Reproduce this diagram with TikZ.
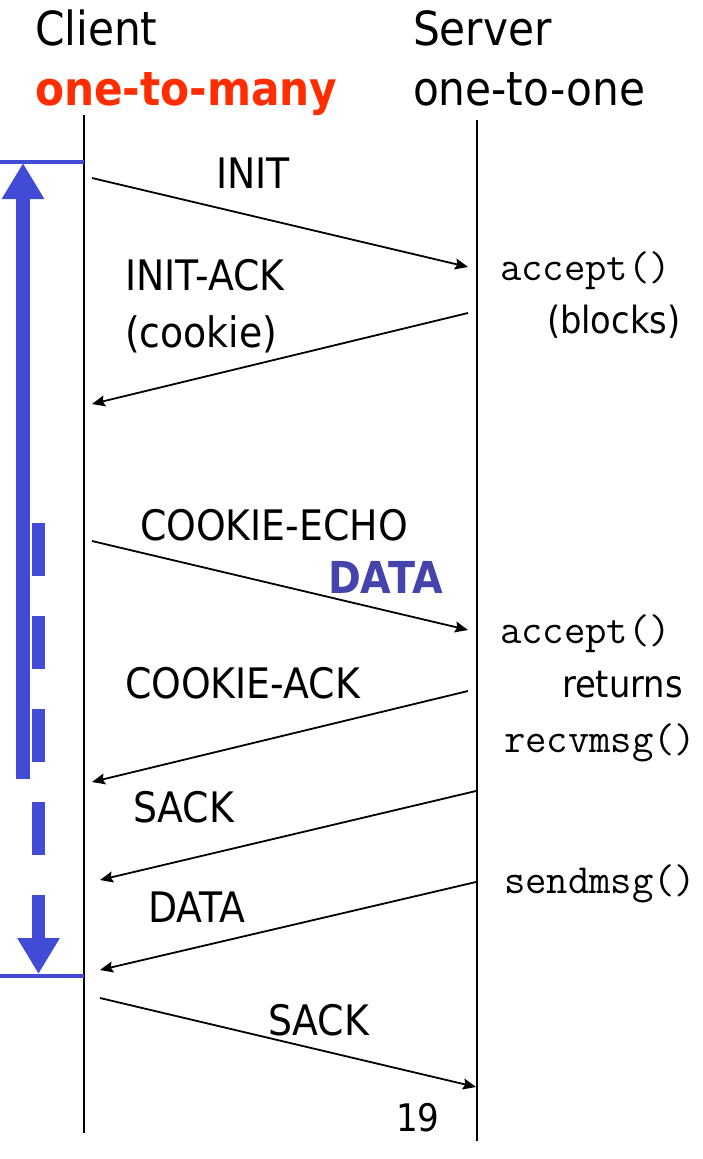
\documentclass[tikz,border=0pt]{standalone}
\usepackage{fontspec}
\setmainfont{DejaVu Sans}[FakeStretch=0.9]
\usetikzlibrary{arrows.meta}
\definecolor{flowblue}{RGB}{66,75,213}
\definecolor{datablue}{RGB}{68,68,172}
\definecolor{headred}{RGB}{255,45,0}
\tikzset{
  lbl/.style={anchor=base west, inner sep=0pt, outer sep=0pt, font=\fontsize{42}{44}\selectfont},
  note/.style={anchor=base west, inner sep=0pt, outer sep=0pt, font=\fontsize{37.5}{40}\selectfont},
  head/.style={anchor=base west, inner sep=0pt, outer sep=0pt, font=\fontsize{47}{49}\selectfont},
  code/.style={anchor=base west, inner sep=0pt, outer sep=0pt, font=\fontsize{41.5}{44}\selectfont\ttfamily},
  lifeline/.style={line width=2pt},
  msg/.style={line width=1.8pt, -{Stealth[length=13pt,width=11pt,inset=2pt]}},
  bigarrow/.style={flowblue, line width=14pt, -{Triangle[length=36pt,width=40pt]}},
  bound/.style={flowblue, line width=4pt}
}
\begin{document}
\begin{tikzpicture}[x=1pt,y=-1pt]
\useasboundingbox (0,0) rectangle (702,1159);

% headings
\node[head] (client) at (35,45) {Client};
\node[head, font=\fontsize{47}{49}\selectfont\bfseries, text=headred] (cmode) at (35,105) {one-to-many};
\node[head] (server) at (413,45) {Server};
\node[head] (smode) at (413,105) {one-to-one};

% lifelines
\coordinate (ctop) at (84,115);
\coordinate (cbot) at (84,1133);
\coordinate (stop) at (477,120);
\coordinate (sbot) at (477,1141);
\draw[lifeline] (ctop) -- (cbot);
\draw[lifeline] (stop) -- (sbot);

% association lifetime markers
\coordinate (b1l) at (0,162);
\coordinate (b1r) at (84,162);
\coordinate (b2l) at (0,976);
\coordinate (b2r) at (84,976);
\draw[bound] (b1l) -- (b1r);
\draw[bound] (b2l) -- (b2r);

\coordinate (upfrom) at (23,779);
\coordinate (upto) at (23,163);
\draw[bigarrow] (upfrom) -- (upto);
\coordinate (dnfrom) at (38.5,523);
\coordinate (dnto) at (38.5,974);
\draw[bigarrow, line width=13pt, dash pattern=on 53pt off 40pt] (dnfrom) -- (dnto);

% message endpoints
\coordinate (m1a) at (92,178);   \coordinate (m1b) at (468,267);
\coordinate (m2a) at (468,313);  \coordinate (m2b) at (92,404);
\coordinate (m3a) at (92,541);   \coordinate (m3b) at (468,630);
\coordinate (m4a) at (468,691);  \coordinate (m4b) at (92,782);
\coordinate (m5a) at (476,791);  \coordinate (m5b) at (100,880);
\coordinate (m6a) at (476,882);  \coordinate (m6b) at (100,970);
\coordinate (m7a) at (100,998);  \coordinate (m7b) at (476,1087);

\draw[msg] (m1a) -- (m1b);
\draw[msg] (m2a) -- (m2b);
\draw[msg] (m3a) -- (m3b);
\draw[msg] (m4a) -- (m4b);
\draw[msg] (m5a) -- (m5b);
\draw[msg] (m6a) -- (m6b);
\draw[msg] (m7a) -- (m7b);

% message labels
\node[lbl] (init) at (216,188) {INIT};
\node[lbl] (initack) at (125,290) {INIT-ACK};
\node[lbl] (cookie) at (125,347) {(cookie)};
\node[lbl] (cecho) at (140,540) {COOKIE-ECHO};
\node[lbl, font=\fontsize{44}{46}\selectfont\bfseries, text=datablue] (data1) at (328,593) {DATA};
\node[lbl] (cack) at (125,698) {COOKIE-ACK};
\node[lbl] (sack1) at (133,822) {SACK};
\node[lbl] (data2) at (148,922) {DATA};
\node[lbl] (sack2) at (268,1035) {SACK};

% server-side calls
\node[code] (acc1) at (500,280) {accept()};
\node[note] (blocks) at (547,333) {(blocks)};
\node[code] (acc2) at (500,643) {accept()};
\node[note] (returns) at (562,697) {returns};
\node[code] (recv) at (504,752) {recvmsg()};
\node[code] (send) at (504,893) {sendmsg()};

% page number
\node[lbl, font=\fontsize{38}{40}\selectfont] (page) at (396,1131) {19};
\end{tikzpicture}
\end{document}
